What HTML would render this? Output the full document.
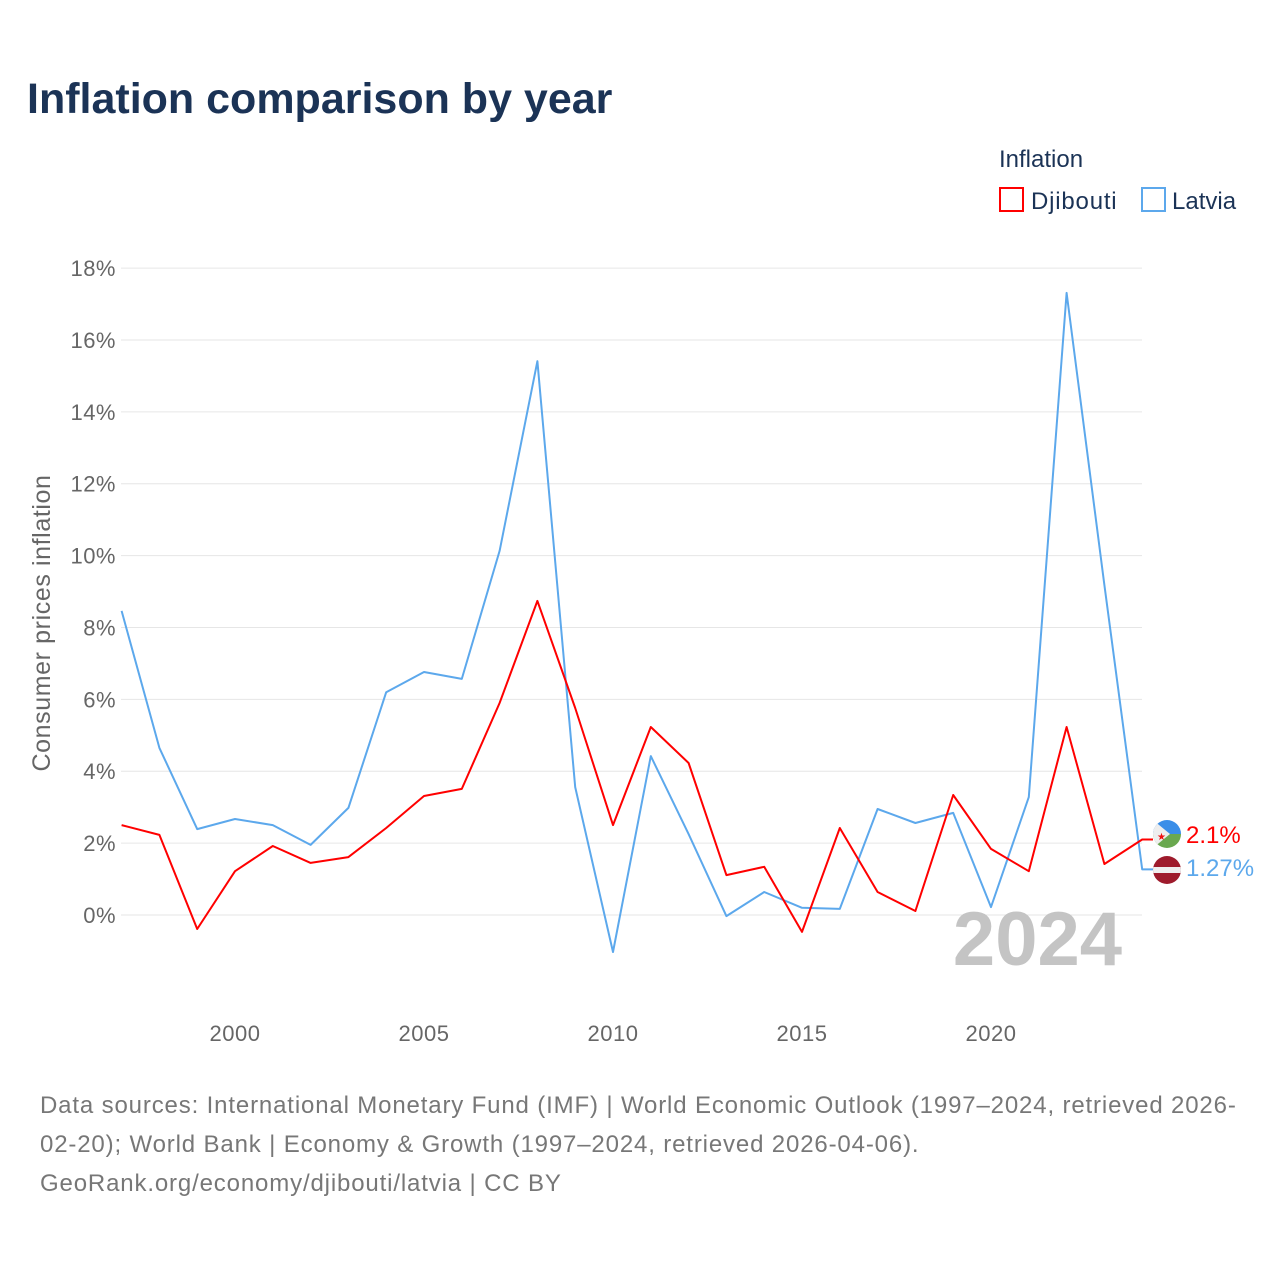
<!DOCTYPE html>
<html><head><meta charset="utf-8"><style>
body{margin:0;background:#fff;font-family:"Liberation Sans",sans-serif}
svg text{font-family:"Liberation Sans",sans-serif}
</style></head><body>
<svg id="c" width="1280" height="1280" xmlns="http://www.w3.org/2000/svg">
<text x="27" y="113" font-size="43" font-weight="bold" fill="#1b3356">Inflation comparison by year</text>
<text x="999" y="167" font-size="24" fill="#1b3356">Inflation</text>
<g><rect x="1000" y="188" width="23" height="23" fill="none" stroke="#f00" stroke-width="2"/><text x="1031" y="209" font-size="24" fill="#1b3356" letter-spacing="0.8">Djibouti</text></g>
<g><rect x="1142" y="188" width="23" height="23" fill="none" stroke="#5ca8ec" stroke-width="2"/><text x="1172" y="209" font-size="24" fill="#1b3356">Latvia</text></g>
<g id="grid"></g><g id="axes"></g><g id="lines"></g>
<text x="1122" y="965" font-size="76" font-weight="bold" fill="#c4c4c4" text-anchor="end">2024</text>
<text transform="translate(50,623) rotate(-90)" font-size="25" fill="#666" text-anchor="middle" letter-spacing="0.6">Consumer prices inflation</text>
<g>
<clipPath id="cd"><circle cx="1167" cy="834" r="14"/></clipPath>
<g clip-path="url(#cd)"><rect x="1153" y="820" width="28" height="14" fill="#3a8ee8"/><rect x="1153" y="834" width="28" height="14" fill="#6aa84f"/><polygon points="1153,820 1170,834 1153,848" fill="#eee"/></g>
<text x="1157" y="840" font-size="10" fill="#e11">★</text></g>
<g>
<clipPath id="cl"><circle cx="1167" cy="870" r="14"/></clipPath>
<g clip-path="url(#cl)"><rect x="1153" y="856" width="28" height="28" fill="#9e1b2c"/><rect x="1153" y="867" width="28" height="6" fill="#eee"/></g></g>
<text x="1186" y="843" font-size="24" fill="#f00">2.1%</text>
<text x="1186" y="876" font-size="24" fill="#5ca8ec">1.27%</text>
<text font-size="24" fill="#777" letter-spacing="0.85"><tspan x="40" y="1113">Data sources: International Monetary Fund (IMF) | World Economic Outlook (1997–2024, retrieved 2026-</tspan><tspan x="40" y="1152">02-20); World Bank | Economy &amp; Growth (1997–2024, retrieved 2026-04-06).</tspan><tspan x="40" y="1191">GeoRank.org/economy/djibouti/latvia | CC BY</tspan></text>
</svg>
<script>
const years=[1997,1998,1999,2000,2001,2002,2003,2004,2005,2006,2007,2008,2009,2010,2011,2012,2013,2014,2015,2016,2017,2018,2019,2020,2021,2022,2023,2024];
const djibouti=[2.5,2.23,-0.39,1.22,1.92,1.45,1.61,2.42,3.31,3.51,5.9,8.74,5.76,2.5,5.23,4.23,1.11,1.34,-0.47,2.42,0.64,0.11,3.34,1.84,1.22,5.23,1.42,2.1];
const latvia=[8.46,4.65,2.39,2.67,2.5,1.95,2.98,6.2,6.76,6.57,10.13,15.41,3.56,-1.03,4.42,2.25,-0.03,0.64,0.2,0.17,2.95,2.56,2.84,0.22,3.28,17.31,9.18,1.27];
const yTicks=[0,2,4,6,8,10,12,14,16,18];
const xTicks=[2000,2005,2010,2015,2020];
const X=y=>121.6+(y-1997)*37.8;
const Y=v=>915-v*35.94;
const NS="http://www.w3.org/2000/svg";
function mk(t,a,p){const e=document.createElementNS(NS,t);for(const k in a)e.setAttribute(k,a[k]);p.appendChild(e);return e;}
const grid=document.getElementById('grid'),axes=document.getElementById('axes'),lines=document.getElementById('lines');
yTicks.forEach(v=>{
 const l=mk('line',{x1:121,x2:1142,y1:Y(v),y2:Y(v),stroke:'#e6e6e6','stroke-width':1},grid);
 
 
 const t=mk('text',{x:116,y:Y(v)+8,'font-size':22,fill:'#666','text-anchor':'end','letter-spacing':0.5},axes);
 t.textContent=v+'%';
 
 
});
xTicks.forEach(v=>{
 const t=mk('text',{x:X(v),y:1041,'font-size':22,fill:'#666','text-anchor':'middle','letter-spacing':0.5},axes);
 t.textContent=v;
 
 
});
function series(vals,color,name,endY){
 let d=vals.map((v,i)=>(i?'L':'M')+X(years[i]).toFixed(1)+','+Y(v).toFixed(1)).join(' ');
 d+=' L1153,'+endY;
 const p=mk('path',{d:d,fill:'none',stroke:color,'stroke-width':2,'stroke-linejoin':'round'},lines);
 
 
}
series(latvia,'#5ca8ec','latvia-line',Y(latvia[latvia.length-1]).toFixed(1));
series(djibouti,'#f00','djibouti-line',Y(djibouti[djibouti.length-1]).toFixed(1));
</script>
</body></html>
